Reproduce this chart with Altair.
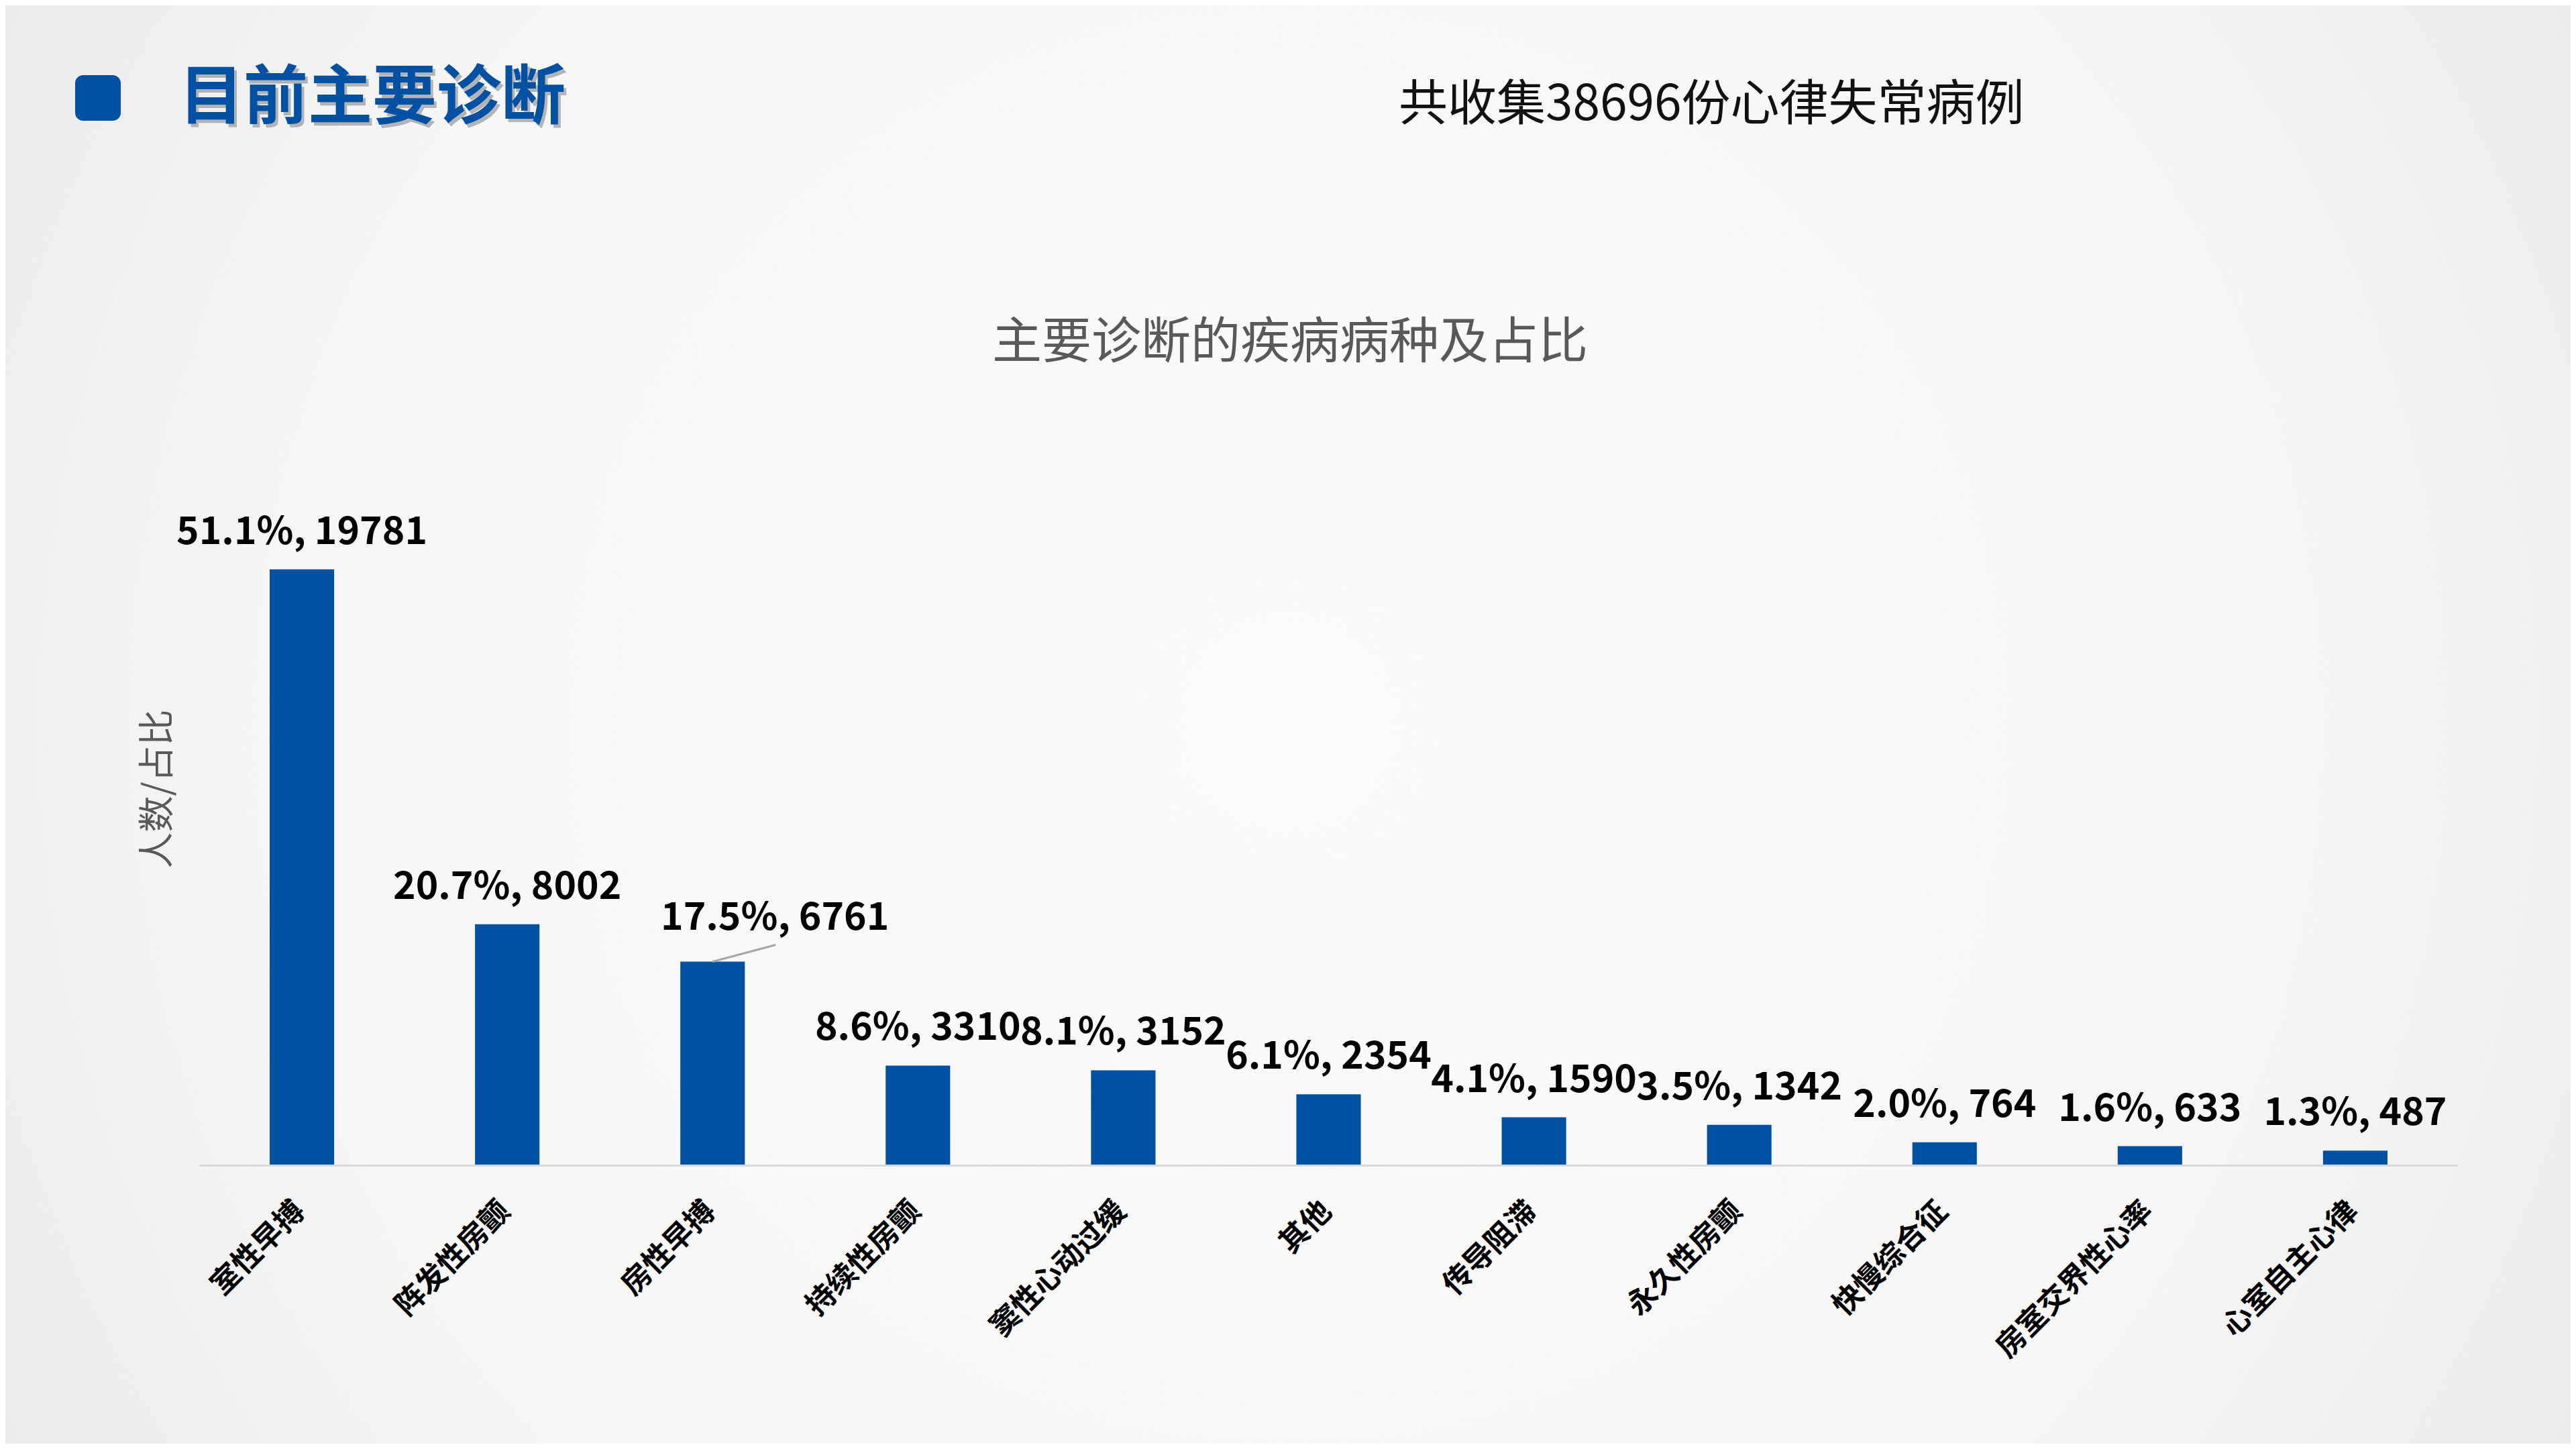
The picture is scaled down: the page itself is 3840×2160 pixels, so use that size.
import altair as alt
import pandas as pd

categories = ["室性早搏", "阵发性房颤", "房性早搏", "持续性房颤", "窦性心动过缓", "其他",
              "传导阻滞", "永久性房颤", "快慢综合征", "房室交界性心率", "心室自主心律"]
counts = [19781, 8002, 6761, 3310, 3152, 2354, 1590, 1342, 764, 633, 487]
shares = ["51.1%", "20.7%", "17.5%", "8.6%", "8.1%", "6.1%", "4.1%", "3.5%", "2.0%", "1.6%", "1.3%"]

page_title = "目前主要诊断"
subtitle = "共收集38696份心律失常病例"
chart_title = "主要诊断的疾病病种及占比"
y_title = "人数/占比"

df = pd.DataFrame({"cat": categories, "count": counts, "share": shares})
df["label"] = df["share"] + ", " + df["count"].astype(str)

FONT = "Noto Sans CJK SC"
BLUE = "#0050a4"
W, H = 3367, 898
PL, PT, PR, PB = 289, 831, 168, 415

one = alt.InlineData(values=[{"k": 1}])

gradient = {
    "gradient": "radial",
    "stops": [
        {"offset": 0, "color": "#fbfbfb"},
        {"offset": 0.55, "color": "#f6f6f6"},
        {"offset": 1, "color": "#e2e2e2"},
    ],
    "x1": 0.5, "y1": 0.5, "r1": 0,
    "x2": 0.5, "y2": 0.5, "r2": 0.72,
}

bg = alt.Chart(one).mark_rect(fill=gradient).encode(
    x=alt.value(-PL), x2=alt.value(W + PR), y=alt.value(-PT), y2=alt.value(H + PB)
)

square = alt.Chart(one).mark_rect(color=BLUE, cornerRadius=12).encode(
    x=alt.value(-185), x2=alt.value(-117), y=alt.value(-727), y2=alt.value(-659)
)

title_shadow = alt.Chart(one).mark_text(
    text=page_title, font=FONT, fontSize=96, fontWeight="bold", color="#7f7f7f",
    opacity=0.55, align="left", baseline="alphabetic", dx=4, dy=5
).encode(x=alt.value(-30), y=alt.value(-663))

title_main = alt.Chart(one).mark_text(
    text=page_title, font=FONT, fontSize=96, fontWeight="bold", color=BLUE,
    align="left", baseline="alphabetic"
).encode(x=alt.value(-30), y=alt.value(-663))

sub = alt.Chart(one).mark_text(
    text=subtitle, font=FONT, fontSize=73, color="#111111",
    align="left", baseline="alphabetic"
).encode(x=alt.value(1788), y=alt.value(-660))

ctitle = alt.Chart(one).mark_text(
    text=chart_title, font=FONT, fontSize=74, color="#595959",
    align="center", baseline="alphabetic"
).encode(x=alt.value(1626), y=alt.value(-305))

ytitle = alt.Chart(one).mark_text(
    text=y_title, font=FONT, fontSize=54, color="#595959",
    align="center", baseline="alphabetic", angle=270
).encode(x=alt.value(-44), y=alt.value(337))

x_enc = alt.X(
    "cat:N", sort=categories,
    scale=alt.Scale(paddingInner=0.686, paddingOuter=0.343),
    axis=alt.Axis(
        title=None, labelAngle=-45, labelFont=FONT, labelFontSize=44,
        labelFontWeight="bold", labelColor="#000000", labelPadding=46,
        labelOffset=-18,
        ticks=False, tickSize=0, domainColor="#d9d9d9", domainWidth=3,
        grid=False, labelLimit=1000, zindex=1
    ),
)
y_enc = alt.Y("count:Q", scale=alt.Scale(domain=[0, 20000], nice=False), axis=None)

base = alt.Chart(df)

bars = base.mark_bar(color=BLUE).encode(x=x_enc, y=y_enc)

labels = base.transform_filter(alt.datum.cat != "房性早搏").mark_text(
    font=FONT, fontSize=57, fontWeight="bold", color="#000000",
    baseline="alphabetic", align="center", dy=-38
).encode(x=x_enc, y=y_enc, text="label:N")

callout_label = base.transform_filter(alt.datum.cat == "房性早搏").mark_text(
    font=FONT, fontSize=57, fontWeight="bold", color="#000000",
    baseline="alphabetic", align="center", dx=93, dy=-47
).encode(x=x_enc, y=y_enc, text="label:N")

leader = base.transform_filter(alt.datum.cat == "房性早搏").mark_rule(
    color="#a6a6a6", strokeWidth=3, x2Offset=94, y2Offset=-25
).encode(x=x_enc, x2="cat:N", y=y_enc, y2="count:Q")

chart = alt.layer(
    bg, square, title_shadow, title_main, sub, ctitle, ytitle,
    bars, leader, labels, callout_label
).properties(
    width=W, height=H,
    autosize=alt.AutoSizeParams(type="none"),
    padding={"left": PL, "top": PT, "right": PR, "bottom": PB},
    background="#f2f2f2",
).configure_view(stroke="transparent").configure(font=FONT)

chart.save("out.html", embed_options={"renderer": "svg", "actions": False})
